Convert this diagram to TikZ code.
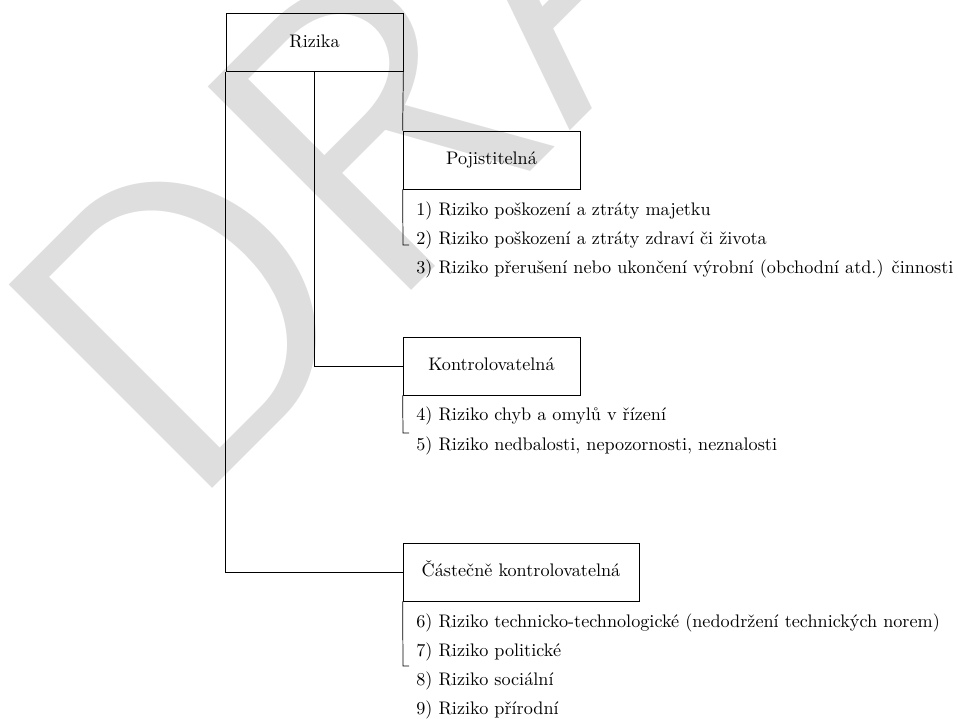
\documentclass[tikz,border=0pt]{standalone}
\usepackage{fontspec}
\definecolor{wm}{RGB}{222,222,222}
\begin{document}
\begin{tikzpicture}[x=0.55pt,y=-0.55pt,
  box/.style={draw,inner sep=0pt,minimum height=31.9pt,text height=1.6ex,text depth=.4ex},
  item/.style={anchor=base west,inner sep=0pt},
  link/.style={draw,line width=0.4pt},
  watermark/.style={anchor=base west,inner sep=0pt,rotate=45,text=wm,
    font=\fontsize{228}{228}\selectfont\sffamily}]
\useasboundingbox (0,0) rectangle (958,719);
\clip (0,0) rectangle (958,719);
\node[watermark] (wm) at (186,515) {DRAFT};
% boxes
\node[box,minimum width=97.35pt] (riz) at (314.5,42.5) {Rizika};
\node[box,minimum width=97.35pt] (poj) at (491.5,160) {Pojistitelná};
\node[box,minimum width=97.35pt] (kon) at (491.5,366) {Kontrolovatelná};
\node[box,minimum width=129.8pt] (cas) at (521,572) {Částečně kontrolovatelná};
% connectors
\draw[link] (riz.south east) -- (poj.north west);
\draw[link] (riz.south) |- (kon.west);
\draw[link] (riz.south west) |- (cas.west);
% item lists
\node[item] (i1) at (416,216) {1) Riziko poškození a ztráty majetku};
\node[item] (i2) at (416,245) {2) Riziko poškození a ztráty zdraví či života};
\node[item] (i3) at (416,274) {3) Riziko přerušení nebo ukončení výrobní (obchodní atd.) činnosti};
\node[item] (i4) at (416,421) {4) Riziko chyb a omylů v řízení};
\node[item] (i5) at (416,450) {5) Riziko nedbalosti, nepozornosti, neznalosti};
\node[item] (i6) at (416,627) {6) Riziko technicko-technologické (nedodržení technických norem)};
\node[item] (i7) at (416,656) {7) Riziko politické};
\node[item] (i8) at (416,685) {8) Riziko sociální};
\node[item] (i9) at (416,714) {9) Riziko přírodní};
% brackets
\coordinate (t1) at (403,245);
\coordinate (t2) at (403,433);
\coordinate (t3) at (403,666);
\draw[link] (poj.south west) -- (t1) -- ++(6,0);
\draw[link] (kon.south west) -- (t2) -- ++(6,0);
\draw[link] (cas.south west) -- (t3) -- ++(6,0);
\end{tikzpicture}
\end{document}
